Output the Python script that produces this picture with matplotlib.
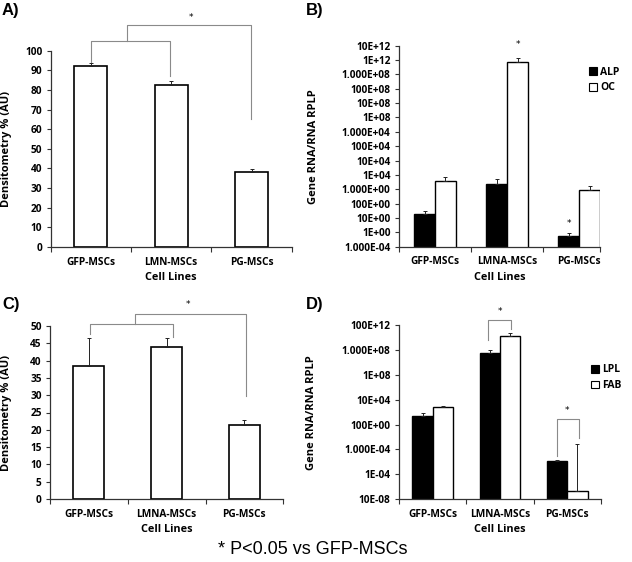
import matplotlib
matplotlib.use('Agg')
import matplotlib.pyplot as plt
from matplotlib.patches import Patch

plt.rcParams['font.family'] = ['Open Sans', 'DejaVu Sans']
plt.rcParams['font.weight'] = 'bold'
plt.rcParams['axes.labelweight'] = 'bold'

# panel A - densitometry
cells_a = ['GFP-MSCs', 'LMN-MSCs', 'PG-MSCs']
dens_a = [92.0, 82.7, 38.2]
err_a = [1.8, 1.8, 1.5]

# panel C - densitometry
cells_c = ['GFP-MSCs', 'LMNA-MSCs', 'PG-MSCs']
dens_c = [38.5, 44.0, 21.5]
err_c = [7.9, 2.6, 1.3]

# panel B - osteogenic genes (values on the plotted log axis)
cells_b = ['GFP-MSCs', 'LMNA-MSCs', 'PG-MSCs']
alp = [200, 25000, 5.5]
alp_err = [90, 24000, 4]
oc = [35000, 7.8e12, 8300]
oc_err = [40000, 6e12, 9500]
ticks_b = ['1.000E-04', '1E+00', '10E+00', '100E+00', '1.000E+00',
           '1E+04', '10E+04', '100E+04', '1.000E+04', '1E+08',
           '10E+08', '100E+08', '1.000E+08', '1E+12', '10E+12']

# panel D - adipogenic genes
cells_d = ['GFP-MSCs', 'LMNA-MSCs', 'PG-MSCs']
lpl = [2200, 7.4e5, 33]
lpl_err = [600, 2.8e5, 4]
fab = [4900, 3.8e6, 2.2]
fab_err = [700, 1.0e6, 160]
ticks_d = ['10E-08', '1E-04', '1.000E-04', '100E+00', '10E+04',
           '1E+08', '1.000E+08', '100E+12']

W, H = 632, 562
fig = plt.figure(figsize=(W / 100, H / 100), dpi=100)

def box(l, t, r, b):
    return [l / W, 1 - b / H, (r - l) / W, (b - t) / H]

axA = fig.add_axes(box(50.7, 50.7, 291.7, 247))
axB = fig.add_axes(box(399, 45.7, 600, 246.7))
axC = fig.add_axes(box(50, 326, 283.3, 499))
axD = fig.add_axes(box(399, 325.3, 601, 499))

spine_c = '#333333'
bracket_c = '#8a8a8a'
tick_fs = 7.3
ekw = dict(elinewidth=0.7, capthick=0.7, ecolor='#222222')


def style(ax, cats, xmax):
    for s in ['top', 'right']:
        ax.spines[s].set_visible(False)
    for s in ['left', 'bottom']:
        ax.spines[s].set_color(spine_c)
        ax.spines[s].set_linewidth(0.9)
    ax.set_xlim(-0.5, xmax)
    ax.set_xticks([-0.5, 0.5, 1.5, xmax])
    ax.set_xticklabels([])
    ax.set_xticks([0, 1, 2], minor=True)
    ax.set_xticklabels(cats, minor=True, fontsize=tick_fs)
    ax.tick_params(axis='x', which='major', length=3.5, width=0.8, color=spine_c)
    ax.tick_params(axis='x', which='minor', length=0, pad=7)
    ax.tick_params(axis='y', which='major', length=3, width=0.8, color=spine_c,
                   labelsize=tick_fs, pad=3)
    ax.tick_params(axis='y', which='minor', length=0)
    ax.set_xlabel('Cell Lines', fontsize=7.8, labelpad=3)


def bracket(ax, pts):
    xs = [p[0] for p in pts]
    ys = [p[1] for p in pts]
    ax.plot(xs, ys, color=bracket_c, lw=0.8, clip_on=False)


star = dict(ha='center', va='bottom', fontsize=6.5, fontweight='normal',
            family='DejaVu Sans')

# ---- A ----
axA.bar(range(3), dens_a, 0.41, color='white', edgecolor='black', lw=1.2,
        yerr=[[0] * 3, err_a], capsize=1.5, error_kw=ekw)
axA.set_ylim(0, 100)
axA.set_yticks(range(0, 101, 10))
style(axA, cells_a, 2.5)
axA.set_ylabel('Densitometry % (AU)', fontsize=8)
axA.yaxis.set_label_coords(-0.16, 0.5)
bracket(axA, [(0, 94.4), (0, 104.9), (0.99, 104.9), (0.99, 87.1)])
bracket(axA, [(0.45, 104.9), (0.45, 113.1), (1.99, 113.1), (1.99, 65)])
axA.text(1.25, 114.5, '*', **star)

# ---- C ----
axC.bar(range(3), dens_c, 0.4, color='white', edgecolor='black', lw=1.2,
        yerr=[[0] * 3, err_c], capsize=1.5, error_kw=ekw)
axC.set_ylim(0, 50)
axC.set_yticks(range(0, 51, 5))
style(axC, cells_c, 2.5)
axC.set_ylabel('Densitometry % (AU)', fontsize=8)
axC.yaxis.set_label_coords(-0.161, 0.5)
bracket(axC, [(0.02, 47.6), (0.02, 50.5), (1.08, 50.5), (1.08, 46.9)])
bracket(axC, [(0.59, 50.5), (0.59, 53.6), (2.02, 53.6), (2.02, 29.8)])
axC.text(1.28, 54.8, '*', **star)

# ---- B ----
w = 0.29
xb = [0, 1, 2]
axB.set_yscale('log')
axB.bar([x - w / 2 for x in xb], alp, w, color='black', edgecolor='black', lw=1.0,
        yerr=[[0] * 3, alp_err], capsize=1.5, error_kw=ekw, label='ALP')
axB.bar([x + w / 2 for x in xb], oc, w, color='white', edgecolor='black', lw=1.0,
        yerr=[[0] * 3, oc_err], capsize=1.5, error_kw=ekw, label='OC')
axB.set_ylim(1, 1e14)
axB.set_yticks([10.0 ** k for k in range(15)])
axB.set_yticklabels(ticks_b)
style(axB, cells_b, 2.29)
axB.set_ylabel('Gene RNA/RNA RPLP', fontsize=8)
axB.yaxis.set_label_coords(-0.40, 0.5)
axB.text(1 + w / 2, 6.0e13, '*', **star)
axB.text(2 - w / 2, 20, '*', **star)
axB.legend(handles=[Patch(facecolor='black', edgecolor='black', lw=0.8, label='ALP'),
                    Patch(facecolor='white', edgecolor='black', lw=0.8, label='OC')],
           loc='upper left', bbox_to_anchor=(0.945, 0.895), frameon=False,
           fontsize=7.5, handlelength=0.75, handleheight=0.75, handletextpad=0.3,
           labelspacing=0.45, borderpad=0, borderaxespad=0)

# ---- D ----
w = 0.3
axD.set_yscale('log')
axD.bar([x - w / 2 for x in xb], lpl, w, color='black', edgecolor='black', lw=1.0,
        yerr=[[0] * 3, lpl_err], capsize=1.5, error_kw=ekw)
axD.bar([x + w / 2 for x in xb], fab, w, color='white', edgecolor='black', lw=1.0,
        yerr=[[0] * 3, fab_err], capsize=1.5, error_kw=ekw)
axD.set_ylim(1, 1e7)
axD.set_yticks([10.0 ** k for k in range(8)])
axD.set_yticklabels(ticks_d)
style(axD, cells_d, 2.5)
axD.set_ylabel('Gene RNA/RNA RPLP', fontsize=8)
axD.yaxis.set_label_coords(-0.404, 0.5)
bracket(axD, [(0.82, 2.6e6), (0.82, 1.6e7), (1.17, 1.6e7), (1.17, 7.1e6)])
bracket(axD, [(1.85, 52), (1.85, 1660), (2.17, 1660), (2.17, 282)])
axD.text(1.0, 2.3e7, '*', **star)
axD.text(2.0, 2400, '*', **star)
axD.legend(handles=[Patch(facecolor='black', edgecolor='black', lw=0.8, label='LPL'),
                    Patch(facecolor='white', edgecolor='black', lw=0.8, label='FAB')],
           loc='upper left', bbox_to_anchor=(0.95, 0.775), frameon=False,
           fontsize=7.5, handlelength=0.75, handleheight=0.75, handletextpad=0.3,
           labelspacing=0.45, borderpad=0, borderaxespad=0)

# panel letters and footnote
for lab, x, y in [('A)', 2, 11), ('B)', 306, 11), ('C)', 2, 304), ('D)', 306, 304)]:
    fig.text(x / W, 1 - y / H, lab, fontsize=12, fontweight='bold',
             family='Liberation Sans', va='center', ha='left')
fig.text(313 / W, 1 - 549 / H, '* P<0.05 vs GFP-MSCs', fontsize=13,
         fontweight='normal', family='Liberation Sans', ha='center', va='center')

fig.savefig('out.png', dpi=100)
